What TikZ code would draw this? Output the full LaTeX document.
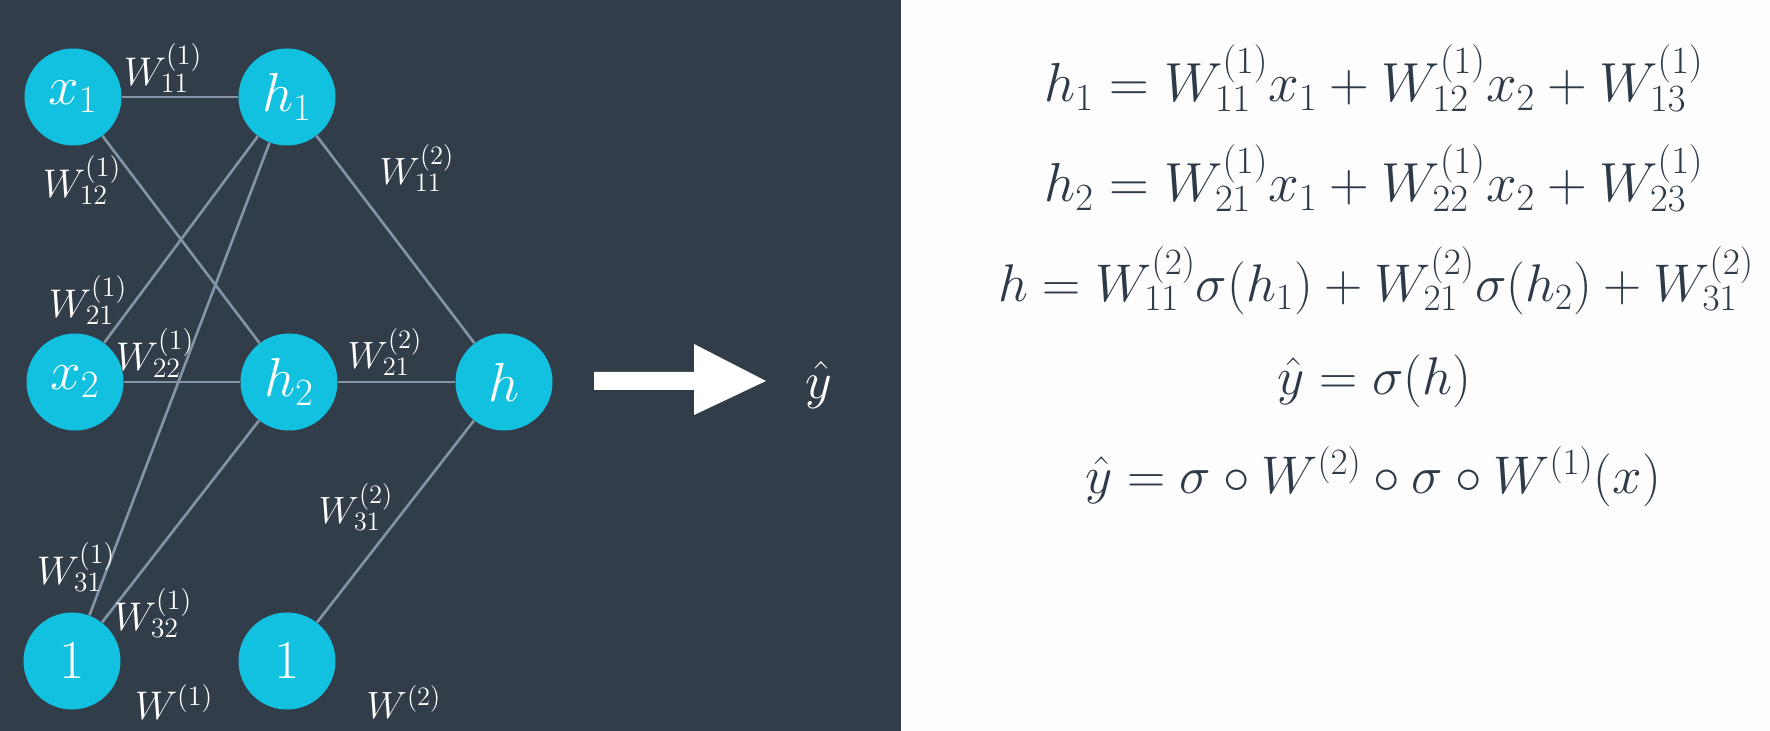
\RequirePackage{fix-cm}
\documentclass[tikz,border=0pt]{standalone}
\definecolor{darkbg}{HTML}{323D4A}
\definecolor{rightbg}{HTML}{FDFDFD}
\definecolor{nodecyan}{HTML}{12C1DF}
\definecolor{edgegray}{HTML}{8495A8}
\definecolor{eqtext}{HTML}{2E3A47}
\begin{document}
\begin{tikzpicture}[x=0.5pt,y=-0.5pt,
  neuron/.style={circle,fill=nodecyan,minimum size=48.5pt,inner sep=0pt,text=white,font=\fontsize{27.5}{32}\selectfont},
  wlab/.style={text=white,font=\fontsize{20}{24}\selectfont,inner sep=0pt},
  wlabb/.style={text=white,font=\fontsize{19}{23}\selectfont,inner sep=0pt},
  conn/.style={draw=edgegray,line width=1.3pt},
  eq/.style={text=eqtext,font=\fontsize{26.5}{32}\selectfont,anchor=base,inner sep=0pt},
  eqwide/.style={eq,font=\fontsize{27.5}{33}\selectfont}]
\useasboundingbox (0,0) rectangle (1770,731);
\fill[darkbg] (0,0) rectangle (901,731);
\fill[rightbg] (901,0) rectangle (1770,731);

% neurons
\node[neuron] (x1) at (73,97) {$x_1$};
\node[neuron] (h1) at (287,97) {$h_1$};
\node[neuron] (x2) at (75,382) {$x_2$};
\node[neuron] (h2) at (289,382) {$h_2$};
\node[neuron] (h)  at (504,382) {$h$};
\node[neuron] (b1) at (72,661) {$1$};
\node[neuron] (b2) at (287,661) {$1$};

% connections
\draw[conn] (x1) -- (h1);
\draw[conn] (x1) -- (h2);
\draw[conn] (x2) -- (h1);
\draw[conn] (x2) -- (h2);
\draw[conn] (b1) -- (h1);
\draw[conn] (b1) -- (h2);
\draw[conn] (h1) -- (h);
\draw[conn] (h2) -- (h);
\draw[conn] (b2) -- (h);

% weight labels
\node[wlab] (l11) at (163,68) {$W_{11}^{(1)}$};
\node[wlab] (l12) at (82,180) {$W_{12}^{(1)}$};
\node[wlab] (l21) at (88,300) {$W_{21}^{(1)}$};
\node[wlab] (l22) at (155,353) {$W_{22}^{(1)}$};
\node[wlab] (l31) at (76,567) {$W_{31}^{(1)}$};
\node[wlab] (l32) at (153,613) {$W_{32}^{(1)}$};
\node[wlabb] (m11) at (417,168) {$W_{11}^{(2)}$};
\node[wlabb] (m21) at (385,352) {$W_{21}^{(2)}$};
\node[wlabb] (m31) at (356,507) {$W_{31}^{(2)}$};
\node[wlab] (w1) at (174,702) {$W^{(1)}$};
\node[wlabb] (w2) at (404,702) {$W^{(2)}$};

% big arrow
\fill[white] (594,372) -- (694,372) -- (694,344) -- (766,381) -- (694,415) -- (694,390) -- (594,390) -- cycle;
\node[text=white,font=\fontsize{26}{30}\selectfont,inner sep=0pt] (yhat) at (819,385) {$\hat y$};

% equations
\node[eqwide] (e1) at (1374,102) {$h_1 = W_{11}^{(1)}x_1 + W_{12}^{(1)}x_2 + W_{13}^{(1)}$};
\node[eqwide] (e2) at (1374,202) {$h_2 = W_{21}^{(1)}x_1 + W_{22}^{(1)}x_2 + W_{23}^{(1)}$};
\node[eq] (e3) at (1376,302) {$h = W_{11}^{(2)}\sigma(h_1) + W_{21}^{(2)}\sigma(h_2) + W_{31}^{(2)}$};
\node[eq] (e4) at (1374,395) {$\hat y = \sigma(h)$};
\node[eq] (e5) at (1373,494) {$\hat y = \sigma\circ W^{(2)}\circ\sigma\circ W^{(1)}(x)$};
\end{tikzpicture}
\end{document}
